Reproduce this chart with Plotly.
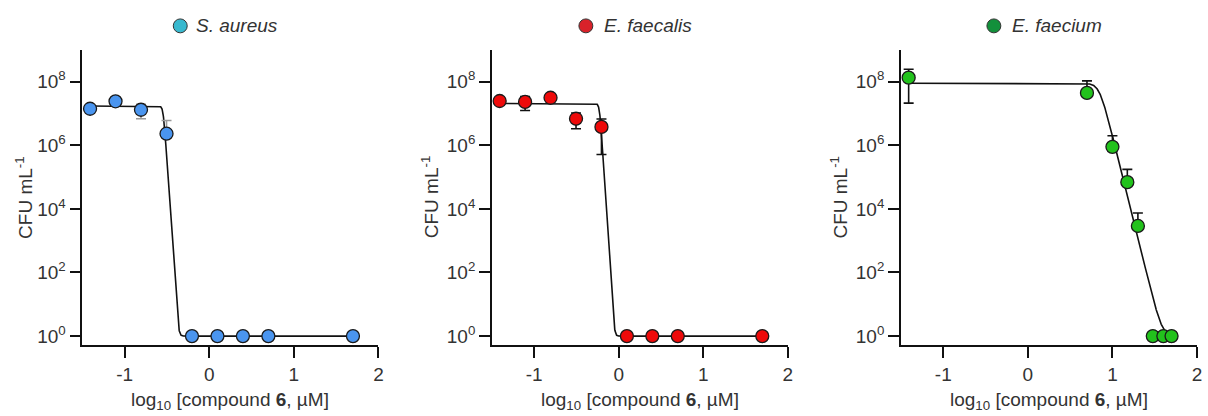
import numpy as np
import plotly.graph_objects as go

# ---------------- data ----------------
species = ["S. aureus", "E. faecalis", "E. faecium"]

conc_sa = [0.039, 0.078, 0.156, 0.3125, 0.625, 1.25, 2.5, 5, 50]
cfu_sa = [1.4e7, 2.4e7, 1.3e7, 2.3e6, 1, 1, 1, 1, 1]
err_up_sa = [0, 0, 6.2e6, 3.7e6, 0, 0, 0, 0, 0]
err_dn_sa = [0, 0, 6.2e6, 0, 0, 0, 0, 0, 0]

conc_ef = [0.039, 0.078, 0.156, 0.3125, 0.625, 1.25, 2.5, 5, 50]
cfu_ef = [2.45e7, 2.3e7, 3.1e7, 6.8e6, 3.76e6, 1, 1, 1, 1]
err_up_ef = [0, 1.07e7, 0, 3.5e6, 2.9e6, 0, 0, 0, 0]
err_dn_ef = [0, 1.07e7, 0, 3.5e6, 3.25e6, 0, 0, 0, 0]

conc_efm = [0.039, 5, 10, 15, 20, 30, 40, 50]
cfu_efm = [1.33e8, 4.4e7, 8.9e5, 6.9e4, 2.9e3, 1, 1, 1]
err_up_efm = [1.12e8, 6.1e7, 1.1e6, 1.05e5, 4.5e3, 0, 0, 0]
err_dn_efm = [1.12e8, 0, 0, 0, 0, 0, 0, 0]

# Hill fit parameters: top, bottom, logIC50, hill slope
fit_sa = [1.7e7, 1.0, -0.543, 40.0]
fit_ef = [2.05e7, 1.0, -0.226, 42.0]
fit_efm = [8.9e7, 1.0, 0.846, 10.7]

x_ticks = [-1, 0, 1, 2]
x_tick_text = ["-1", "0", "1", "2"]
y_ticks = [1, 1e2, 1e4, 1e6, 1e8]
y_tick_text = ["10<sup>0</sup>", "10<sup>2</sup>", "10<sup>4</sup>", "10<sup>6</sup>", "10<sup>8</sup>"]

point_colors = ["#4a95ef", "#ee0a0a", "#22c21c"]
legend_colors = ["#38b9cf", "#d8222a", "#13903b"]
errbar_colors = ["#9a9a9a", "#111111", "#111111"]

# ---------------- layout geometry (pixels) ----------------
W, H = 1208, 416
x_domains_px = [(82.7, 380.0), (494.0, 791.0), (904.7, 1202.0)]
y_domain_px = (50.0, 346.7)  # top, bottom
legend_circle_px = [181, 588.3, 998]
legend_text_px = [195, 604.3, 1014]
ytitle_px = [24, 432, 843]

FONT = "Liberation Sans, Arial, sans-serif"
TXT = "#333333"
FS = 19

datasets = [
    (conc_sa, cfu_sa, err_up_sa, err_dn_sa, fit_sa),
    (conc_ef, cfu_ef, err_up_ef, err_dn_ef, fit_ef),
    (conc_efm, cfu_efm, err_up_efm, err_dn_efm, fit_efm),
]

fig = go.Figure()
layout = dict(
    width=W, height=H,
    margin=dict(l=0, r=0, t=0, b=0),
    paper_bgcolor="white", plot_bgcolor="white",
    showlegend=False,
    font=dict(family=FONT, size=FS, color=TXT),
)
shapes = []
annotations = []

for i, (conc, cfu, eu, ed, fit) in enumerate(datasets):
    n = "" if i == 0 else str(i + 1)
    xa, ya = "x" + n, "y" + n
    lx = np.log10(np.array(conc, dtype=float))
    top, bottom, logic50, hill = fit
    xc = np.linspace(lx.min(), lx.max(), 1500)
    yc = bottom + (top - bottom) / (1 + 10 ** ((xc - logic50) * hill))
    fig.add_trace(go.Scatter(x=xc, y=yc, mode="lines", xaxis=xa, yaxis=ya,
                             line=dict(color="#111111", width=1.6), hoverinfo="skip"))
    fig.add_trace(go.Scatter(
        x=lx, y=cfu, mode="markers", xaxis=xa, yaxis=ya, name=species[i],
        marker=dict(size=13, color=point_colors[i], line=dict(color="#1a1a1a", width=1.3)),
        error_y=dict(type="data", symmetric=False, array=eu, arrayminus=ed,
                     color=errbar_colors[i], thickness=1.6, width=5),
    ))
    d0, d1 = x_domains_px[i]
    layout["xaxis" + n] = dict(
        domain=[d0 / W, d1 / W], range=[-1.5, 2], anchor=ya,
        tickvals=x_ticks, ticktext=x_tick_text,
        showline=True, linecolor="#111111", linewidth=1.6,
        ticks="outside", ticklen=11, tickwidth=1.6, tickcolor="#111111",
        showgrid=False, zeroline=False,
        tickfont=dict(family=FONT, size=FS, color=TXT),
    )
    layout["yaxis" + n] = dict(
        domain=[1 - y_domain_px[1] / H, 1 - y_domain_px[0] / H],
        type="log", range=[-0.28, 9], anchor=xa,
        tickvals=y_ticks, ticktext=y_tick_text,
        showline=True, linecolor="#111111", linewidth=1.6,
        ticks="outside", ticklen=11, tickwidth=1.6, tickcolor="#111111",
        showgrid=False, zeroline=False,
        tickfont=dict(family=FONT, size=FS, color=TXT),
    )
    # panel header: circle + italic species name
    cx, cy, r = legend_circle_px[i], 26, 7
    shapes.append(dict(type="circle", xref="paper", yref="paper",
                       x0=(cx - r) / W, x1=(cx + r) / W,
                       y0=1 - (cy + r) / H, y1=1 - (cy - r) / H,
                       fillcolor=legend_colors[i], line=dict(color="#333333", width=1)))
    annotations.append(dict(text="<i>" + species[i] + "</i>", xref="paper", yref="paper",
                            x=legend_text_px[i] / W, y=1 - cy / H,
                            xanchor="left", yanchor="middle", showarrow=False,
                            font=dict(family=FONT, size=FS, color=TXT)))
    # x-axis title
    annotations.append(dict(text="log<sub>10</sub> [compound <b>6</b>, µM]",
                            xref="paper", yref="paper",
                            x=(d0 + d1) / 2 / W, y=1 - 403 / H,
                            xanchor="center", yanchor="middle", showarrow=False,
                            font=dict(family=FONT, size=FS, color=TXT)))
    # y-axis title
    annotations.append(dict(text="CFU mL<sup>-1</sup>", xref="paper", yref="paper",
                            x=ytitle_px[i] / W, y=1 - 198 / H, textangle=-90,
                            xanchor="center", yanchor="middle", showarrow=False,
                            font=dict(family=FONT, size=FS, color=TXT)))

layout["shapes"] = shapes
layout["annotations"] = annotations
fig.update_layout(**layout)

fig.write_html("out.html", config={"displayModeBar": False},
               post_script="document.body.style.margin='0';")
